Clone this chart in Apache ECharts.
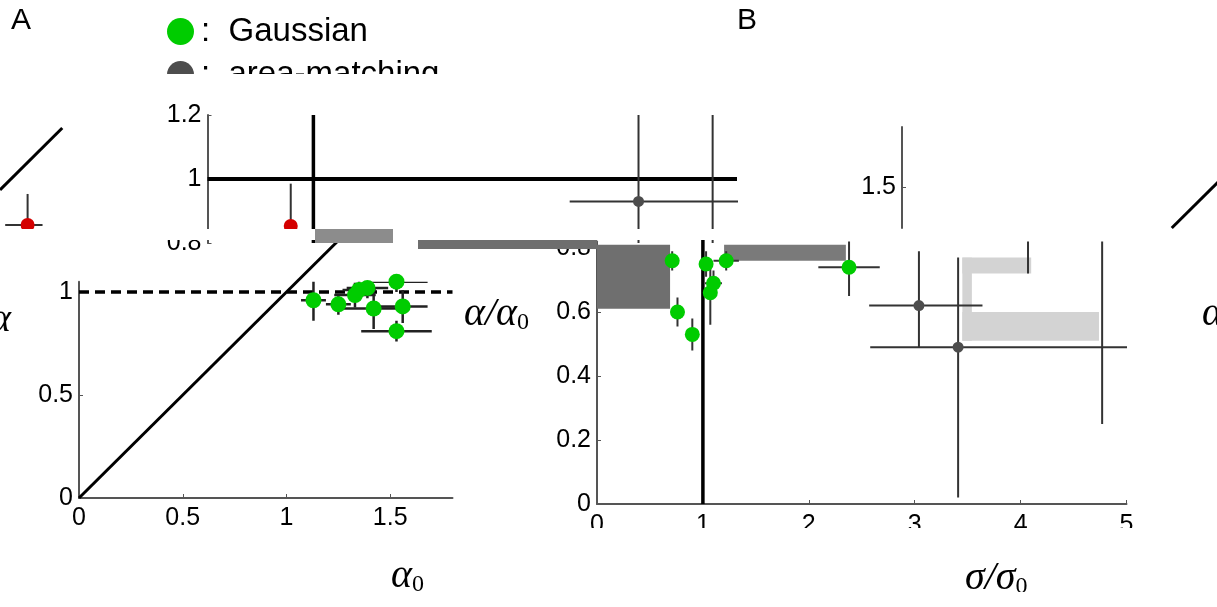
<!DOCTYPE html>
<html>
<head>
<meta charset="utf-8">
<script src="https://cdn.jsdelivr.net/npm/echarts@6/dist/echarts.min.js"></script>
<style>
  html, body { margin: 0; background: #fff; }
  #chart { width: 1217px; height: 607px; }
</style>
</head>
<body>
<div id="chart"></div>
<script>
// panel A: alpha / alpha0 against alpha0, Gaussian fits
const aGaussX = [1.13, 1.25, 1.33, 1.35, 1.39, 1.53, 1.42, 1.56, 1.53]
const aGaussY = [0.96, 0.94, 0.985, 1.01, 1.02, 1.05, 0.92, 0.93, 0.81]
const aGaussXErr = [0.06, 0.06, 0.1, 0.08, 0.1, 0.15, 0.15, 0.12, 0.17]
const aGaussYErr = [0.1, 0.05, 0.06, 0.05, 0.05, 0.05, 0.1, 0.08, 0.05]
const aTicksX = [0, 0.5, 1, 1.5]
const aTicksY = [0, 0.5, 1]

// panel B: alpha / alpha0 against sigma / sigma0
const bGaussX = [0.71, 1.03, 1.22, 1.10, 1.07, 0.76, 0.90, 2.38]
const bGaussY = [0.76, 0.75, 0.76, 0.69, 0.66, 0.60, 0.53, 0.74]
const bGaussXErr = [0.05, 0.06, 0.12, 0.08, 0.05, 0.06, 0.06, 0.29]
const bGaussYErr = [0.03, 0.04, 0.03, 0.04, 0.1, 0.045, 0.05, 0.09]
const bAreaX = [3.04, 3.41, 4.07, 4.77]
const bAreaY = [0.62, 0.49, 0.93, 1.3]
const bAreaXLo = [2.57, 2.58, 3.42, 4.77]
const bAreaXHi = [3.64, 5.05, 5.05, 4.77]
const bAreaYLo = [0.49, 0.02, 0.72, 0.25]
const bAreaYHi = [0.79, 0.77, 1.25, 1.5]
const bTicksX = [0, 1, 2, 3, 4, 5]
const bTicksY = [0, 0.2, 0.4, 0.6, 0.8]
const bTopTicksY = [0.8, 1, 1.2]
const rTicksY = [1.5]

// left fragment (red markers)
const lRedX = [1.333, 2.601]
const lRedY = [1.03, 1.025]
const lRedXLo = [1.225, 2.601]
const lRedXHi = [1.405, 2.601]
const lRedYLo = [1.03, 1.025]
const lRedYHi = [1.18, 1.23]

const GREEN = '#00cc00'
const DARK = '#4d4d4d'
const AXIS = '#555'

function symRows(xs, ys, xe, ye) {
  return xs.map((x, i) => [x, ys[i], x - xe[i], x + xe[i], ys[i] - ye[i], ys[i] + ye[i]])
}
function rows(xs, ys, xlo, xhi, ylo, yhi) {
  return xs.map((x, i) => [x, ys[i], xlo[i], xhi[i], ylo[i], yhi[i]])
}

function errSeries(idx, data, color, width) {
  return {
    type: 'custom',
    xAxisIndex: idx,
    yAxisIndex: idx,
    clip: true,
    silent: true,
    z: 3,
    data: data,
    renderItem: function (params, api) {
      const x = api.value(0), y = api.value(1)
      const h1 = api.coord([api.value(2), y]), h2 = api.coord([api.value(3), y])
      const v1 = api.coord([x, api.value(4)]), v2 = api.coord([x, api.value(5)])
      const style = { stroke: color, lineWidth: width }
      return {
        type: 'group',
        children: [
          { type: 'line', shape: { x1: h1[0], y1: h1[1], x2: h2[0], y2: h2[1] }, style: style },
          { type: 'line', shape: { x1: v1[0], y1: v1[1], x2: v2[0], y2: v2[1] }, style: style }
        ]
      }
    }
  }
}

function refLine(idx, data, width, dashed, clip) {
  return {
    type: 'line',
    xAxisIndex: idx,
    yAxisIndex: idx,
    data: data,
    symbol: 'none',
    silent: true,
    clip: clip,
    z: 2,
    lineStyle: { color: '#000', width: width, type: dashed ? [10, 6] : 'solid' }
  }
}

const labelFont = { fontSize: 25, color: '#000', fontFamily: 'Liberation Sans, Arial' }

function valAxis(idx, min, max, ticks, showLine, margin) {
  return {
    type: 'value',
    gridIndex: idx,
    min: min,
    max: max,
    splitLine: { show: false },
    axisLine: { show: showLine, onZero: false, lineStyle: { color: AXIS, width: 2 } },
    axisTick: ticks ? { show: true, customValues: ticks, inside: true, length: 4, lineStyle: { color: AXIS } } : { show: false },
    axisLabel: ticks ? Object.assign({ show: true, customValues: ticks, margin: margin || 6 }, labelFont) : { show: false }
  }
}

const mathRich = {
  i: { fontSize: 40, fontStyle: 'italic', fontFamily: 'Liberation Serif, serif', fill: '#000' },
  s: { fontSize: 24, fontFamily: 'Liberation Serif, serif', fill: '#000', padding: [18, 0, 0, 0] }
}

const chart = echarts.init(document.getElementById('chart'))

chart.setOption({
  backgroundColor: '#fff',
  animation: false,
  grid: [
    { left: 79, top: 281.7, width: 373.5, height: 216.3, outerBoundsMode: 'none' },
    { left: 597, top: 241.6, width: 529.5, height: 262.4, outerBoundsMode: 'none' },
    { left: 207.5, top: 115, width: 529.5, height: 128, outerBoundsMode: 'none' },
    { left: 902, top: 127, width: 373.5, height: 101, outerBoundsMode: 'none' },
    { left: 0, top: 100, width: 320, height: 129, outerBoundsMode: 'none' }
  ],
  xAxis: [
    valAxis(0, 0, 1.8, aTicksX, true, 8),
    valAxis(1, 0, 5, bTicksX, true, 9),
    valAxis(2, 0, 5, null, false),
    valAxis(3, 0, 1.8, null, false),
    valAxis(4, 1.2, 2.742, null, false)
  ],
  yAxis: [
    valAxis(0, 0, 1.05, aTicksY, true),
    valAxis(1, 0, 0.82, bTicksY, true),
    valAxis(2, 0.8, 1.2, bTopTicksY, true),
    valAxis(3, 1.3, 1.79, rTicksY, true),
    valAxis(4, 1.01, 1.636, null, false)
  ],
  legend: {
    orient: 'vertical',
    left: 162,
    top: 10,
    itemWidth: 27,
    itemHeight: 27,
    itemGap: 10,
    icon: 'circle',
    selectedMode: false,
    data: ['Gaussian', 'area-matching'],
    formatter: ':  {name}',
    textStyle: { fontSize: 33, color: '#000', fontFamily: 'Liberation Sans, Arial', padding: [0, 0, 0, 2] }
  },
  series: [
    {
      name: 'Gaussian', type: 'scatter', xAxisIndex: 0, yAxisIndex: 0, z: 5,
      symbolSize: 16, itemStyle: { color: GREEN, opacity: 1 },
      data: aGaussX.map((x, i) => [x, aGaussY[i]])
    },
    {
      name: 'area-matching', type: 'scatter', xAxisIndex: 1, yAxisIndex: 1, z: 5,
      symbolSize: 11, itemStyle: { color: DARK, opacity: 1 },
      data: bAreaX.map((x, i) => [x, bAreaY[i]])
    },
    // glitch shading in panel B
    {
      type: 'line', xAxisIndex: 1, yAxisIndex: 1, data: [], z: 1, silent: true,
      markArea: {
        silent: true,
        data: [
          [{ coord: [0, 0.61], itemStyle: { color: '#6f6f6f' } }, { coord: [0.69, 0.81] }],
          [{ coord: [1.2, 0.76], itemStyle: { color: '#7a7a7a' } }, { coord: [2.35, 0.81] }],
          [{ coord: [3.45, 0.72], itemStyle: { color: '#d3d3d3' } }, { coord: [4.1, 0.77] }],
          [{ coord: [3.45, 0.51], itemStyle: { color: '#d3d3d3' } }, { coord: [3.54, 0.77] }],
          [{ coord: [3.45, 0.51], itemStyle: { color: '#d3d3d3' } }, { coord: [4.74, 0.6] }]
        ]
      }
    },
    // panel A
    errSeries(0, symRows(aGaussX, aGaussY, aGaussXErr, aGaussYErr), '#222', 2.5),
    refLine(0, [[0, 0], [1.25, 1.25]], 3, false, false),
    refLine(0, [[0, 1], [1.8, 1]], 3.5, true, true),
    // panel B
    refLine(1, [[1, 0], [1, 1.3]], 3.5, false, true),
    errSeries(1, symRows(bGaussX, bGaussY, bGaussXErr, bGaussYErr), '#333', 2),
    errSeries(1, rows(bAreaX, bAreaY, bAreaXLo, bAreaXHi, bAreaYLo, bAreaYHi), '#333', 2),
    {
      name: 'Gaussian', type: 'scatter', xAxisIndex: 1, yAxisIndex: 1, z: 5,
      symbolSize: 15, itemStyle: { color: GREEN, opacity: 1 },
      data: bGaussX.map((x, i) => [x, bGaussY[i]])
    },
    // top fragment of panel B
    refLine(2, [[1, 0.8], [1, 1.2]], 3.5, false, true),
    refLine(2, [[0, 1], [5, 1]], 4, false, true),
    errSeries(2, rows(bAreaX, bAreaY, bAreaXLo, bAreaXHi, bAreaYLo, bAreaYHi), '#333', 2),
    {
      name: 'area-matching', type: 'scatter', xAxisIndex: 2, yAxisIndex: 2, z: 5,
      symbolSize: 11, itemStyle: { color: DARK, opacity: 1 },
      data: bAreaX.map((x, i) => [x, bAreaY[i]])
    },
    // right fragment of panel A
    refLine(3, [[1.3, 1.3], [1.8, 1.8]], 3, false, true),
    // left fragment
    refLine(4, [[1.2, 1.2], [1.5, 1.5]], 3, false, true),
    errSeries(4, rows(lRedX, lRedY, lRedXLo, lRedXHi, lRedYLo, lRedYHi), '#333', 2),
    {
      type: 'scatter', xAxisIndex: 4, yAxisIndex: 4, z: 5, silent: true,
      symbolSize: 14, itemStyle: { color: '#d40000', opacity: 1 },
      data: lRedX.map((x, i) => [x, lRedY[i]])
    }
  ],
  graphic: [
    { type: 'text', left: 11, top: 6, z: 50, style: { text: 'A', fontSize: 30, fill: '#000', fontFamily: 'Liberation Sans, Arial' } },
    { type: 'text', left: 737, top: 6, z: 50, style: { text: 'B', fontSize: 30, fill: '#000', fontFamily: 'Liberation Sans, Arial' } },
    // strip cut between fragments
    { type: 'rect', z: 40, shape: { x: 0, y: 229, width: 1217, height: 11 }, style: { fill: '#fff' } },
    { type: 'rect', z: 41, shape: { x: 315, y: 229, width: 78, height: 14 }, style: { fill: '#8c8c8c' } },
    { type: 'rect', z: 41, shape: { x: 418, y: 240, width: 179, height: 9 }, style: { fill: '#6e6e6e' } },
    // cut through the second legend item
    { type: 'rect', z: 40, shape: { x: 150, y: 74, width: 380, height: 22 }, style: { fill: '#fff' } },
    // axis names
    { type: 'text', left: 464, top: 294, z: 50, style: { text: '{i|α/α}{s|0}', rich: mathRich } },
    { type: 'text', left: 391, top: 556, z: 50, style: { text: '{i|α}{s|0}', rich: mathRich } },
    { type: 'text', left: 965, top: 558, z: 50, style: { text: '{i|σ/σ}{s|0}', rich: mathRich } },
    { type: 'text', left: -10, top: 300, z: 50, style: { text: 'α', fontSize: 40, fontStyle: 'italic', fontFamily: 'Liberation Serif, serif', fill: '#000' } },
    { type: 'text', left: 1202, top: 294, z: 50, style: { text: 'α', fontSize: 40, fontStyle: 'italic', fontFamily: 'Liberation Serif, serif', fill: '#000' } },
    // bottom cuts
    { type: 'rect', z: 60, shape: { x: 560, y: 528, width: 657, height: 12 }, style: { fill: '#fff' } },
    { type: 'rect', z: 60, shape: { x: 0, y: 592, width: 1217, height: 15 }, style: { fill: '#fff' } }
  ]
})
</script>
</body>
</html>
